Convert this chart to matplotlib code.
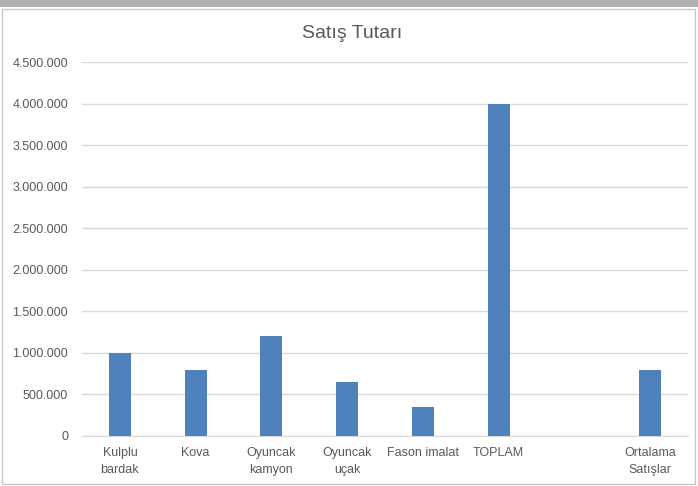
import numpy as np
import matplotlib
matplotlib.use("Agg")
from matplotlib import pyplot as plt
from matplotlib.ticker import FuncFormatter, MultipleLocator
from matplotlib.patches import Rectangle

plt.rcParams['font.family'] = ['Liberation Sans Narrow', 'Liberation Sans', 'DejaVu Sans']

categories = ["Kulplu\nbardak", "Kova", "Oyuncak\nkamyon", "Oyuncak\nuçak",
              "Fason imalat", "TOPLAM", "", "Ortalama\nSatışlar"]
sales = [1000000, 800000, 1200000, 650000, 350000, 4000000, np.nan, 800000]

fig = plt.figure(figsize=(6.98, 4.86), dpi=100)
fig.patch.set_facecolor('white')

# chart frame + top shadow like the screenshot
fig.patches.append(Rectangle((0, 0.985), 1, 0.015, transform=fig.transFigure,
                             facecolor='#b0b0b0', edgecolor='none', zorder=-10))
fig.patches.append(Rectangle((0.003, 0.004), 0.993, 0.978, transform=fig.transFigure,
                             facecolor='white', edgecolor='#c8c8c8', lw=1, zorder=-9))

ax = fig.add_axes([0.1175, 0.1029, 0.868, 0.7685])
ax.set_zorder(1)
x = np.arange(len(categories))
ax.bar(x, sales, width=0.29, color='#4f81bd', zorder=3)

ax.set_xlim(-0.5, len(categories) - 0.5)
ax.set_ylim(0, 4500000)
ax.yaxis.set_major_locator(MultipleLocator(500000))
ax.yaxis.set_major_formatter(FuncFormatter(lambda v, p: f"{v:,.0f}".replace(',', '.')))
ax.grid(axis='y', color='#d9d9d9', lw=1, zorder=0)
ax.set_xticks(x)
ax.set_xticklabels(categories, linespacing=1.5)
ax.tick_params(length=0, labelsize=9, colors='#595959')
ax.tick_params(axis='x', pad=8)
ax.tick_params(axis='y', pad=10)
for s in ['top', 'right', 'left']:
    ax.spines[s].set_visible(False)
ax.spines['bottom'].set_color('#d9d9d9')
ax.set_facecolor('none')

fig.text(0.505, 0.932, "Satış Tutarı", ha='center', va='center', fontsize=14, color='#595959')

fig.savefig('out.png', dpi=100)
